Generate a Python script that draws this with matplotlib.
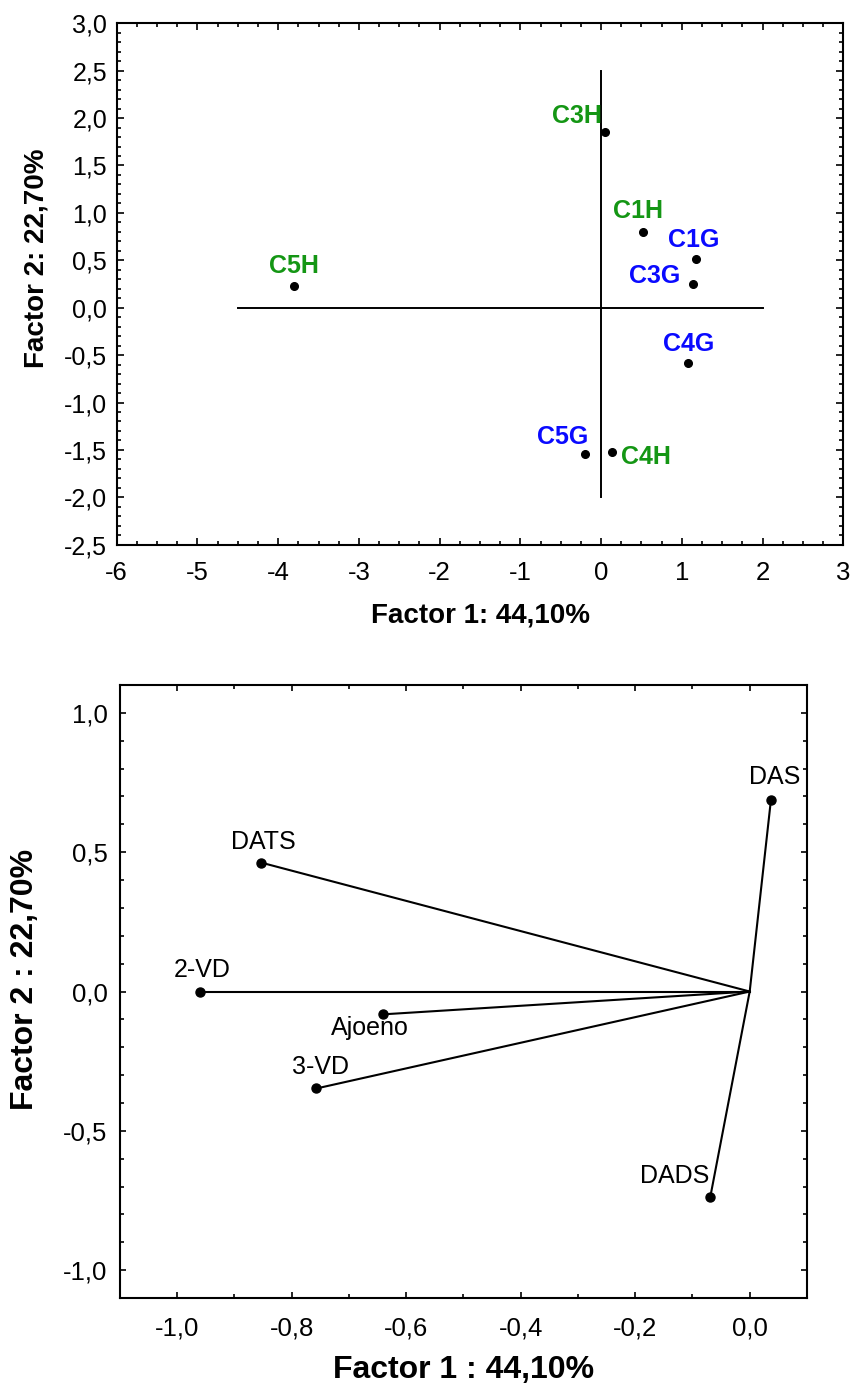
import matplotlib
matplotlib.use("Agg")
import matplotlib.pyplot as plt
from matplotlib.ticker import MultipleLocator, FuncFormatter

plt.rcParams['font.family'] = ['Liberation Sans', 'DejaVu Sans']

# --- cases on factor plane (top) ---
case_names = ['C3H', 'C1H', 'C1G', 'C3G', 'C4G', 'C5G', 'C4H', 'C5H']
case_f1 = [0.05, 0.52, 1.17, 1.14, 1.08, -0.20, 0.14, -3.80]
case_f2 = [1.85, 0.80, 0.51, 0.25, -0.58, -1.54, -1.52, 0.23]
case_group = ['H', 'H', 'G', 'G', 'G', 'G', 'H', 'H']

# reference cross drawn through the origin
cross_f1 = [-4.5, 2.0]
cross_f2 = [-2.0, 2.5]

# --- variables (loadings, bottom) ---
var_names = ['DAS', 'DADS', 'DATS', '2-VD', 'Ajoeno', '3-VD']
var_f1 = [0.037, -0.069, -0.854, -0.960, -0.641, -0.757]
var_f2 = [0.686, -0.739, 0.463, 0.0, -0.082, -0.348]

# label placement: (dx px, dy px, ha)
case_offsets = {
    'C3H': (-3, 16, 'right'), 'C1H': (-5, 21, 'center'), 'C1G': (-2, 19, 'center'),
    'C3G': (-13, 8, 'right'), 'C4G': (0, 19, 'center'), 'C5G': (3, 17, 'right'),
    'C4H': (9, -5, 'left'), 'C5H': (0, 20, 'center'),
}
var_offsets = {
    'DAS': (4, 23, 'center'), 'DADS': (-1, 21, 'right'), 'DATS': (3, 21, 'center'),
    '2-VD': (2, 22, 'center'), 'Ajoeno': (-13, -14, 'center'), '3-VD': (4, 21, 'center'),
}
group_colors = {'H': '#149614', 'G': '#0a0aff'}
PX = 0.72  # px -> pt at 100 dpi


def comma(fmt):
    return FuncFormatter(lambda v, p: fmt.format(round(v, 3) + 0.0).replace('.', ','))


fig = plt.figure(figsize=(8.54, 13.85), dpi=100)

# ---------------- top plot ----------------
ax = fig.add_axes([0.1367, 0.6067, 0.8508, 0.3765])
ax.plot(cross_f1, [0, 0], color='black', lw=1.4)
ax.plot([0, 0], cross_f2, color='black', lw=1.4)
ax.plot(case_f1, case_f2, 'o', color='black', ms=5.5, ls='none')
for name, x, y, g in zip(case_names, case_f1, case_f2, case_group):
    dx, dy, ha = case_offsets[name]
    ax.annotate(name, (x, y), xytext=(dx * PX, dy * PX), textcoords='offset points',
                ha=ha, va='center', fontsize=18, fontweight='bold', color=group_colors[g])

ax.set_xlim(-6, 3)
ax.set_ylim(-2.5, 3.0)
ax.xaxis.set_major_locator(MultipleLocator(1))
ax.xaxis.set_minor_locator(MultipleLocator(0.25))
ax.yaxis.set_major_locator(MultipleLocator(0.5))
ax.yaxis.set_minor_locator(MultipleLocator(0.1))
ax.xaxis.set_major_formatter(comma('{:.0f}'))
ax.yaxis.set_major_formatter(comma('{:.1f}'))
ax.tick_params(which='both', direction='in', top=True, right=True, width=1.2)
ax.tick_params(which='major', length=5)
ax.tick_params(which='minor', length=3)
ax.tick_params(axis='x', which='major', labelsize=18.5, pad=12)
ax.tick_params(axis='y', which='major', labelsize=18, pad=7)
for sp in ax.spines.values():
    sp.set_linewidth(1.5)
ax.set_xlabel('Factor 1: 44,10%', fontsize=20, fontweight='bold', va='center')
ax.xaxis.set_label_coords(0.5, -0.136)
ax.set_ylabel('Factor 2: 22,70%', fontsize=20, fontweight='bold', va='center')
ax.yaxis.set_label_coords(-0.11, 0.55)

# ---------------- bottom plot ----------------
ax2 = fig.add_axes([0.1405, 0.0628, 0.8044, 0.4426])
for x, y in zip(var_f1, var_f2):
    ax2.plot([0, x], [0, y], color='black', lw=1.5)
ax2.plot(var_f1, var_f2, 'o', color='black', ms=6.5, ls='none')
for name, x, y in zip(var_names, var_f1, var_f2):
    dx, dy, ha = var_offsets[name]
    ax2.annotate(name, (x, y), xytext=(dx * PX, dy * PX), textcoords='offset points',
                 ha=ha, va='center', fontsize=18, color='black')

ax2.set_xlim(-1.1, 0.1)
ax2.set_ylim(-1.1, 1.1)
ax2.xaxis.set_major_locator(MultipleLocator(0.2))
ax2.xaxis.set_minor_locator(MultipleLocator(0.1))
ax2.yaxis.set_major_locator(MultipleLocator(0.5))
ax2.yaxis.set_minor_locator(MultipleLocator(0.1))
ax2.xaxis.set_major_formatter(comma('{:.1f}'))
ax2.yaxis.set_major_formatter(comma('{:.1f}'))
ax2.tick_params(which='both', direction='in', top=True, right=True, width=1.2)
ax2.tick_params(which='major', length=4)
ax2.tick_params(which='minor', length=3)
ax2.tick_params(axis='x', which='major', labelsize=18.5, pad=13)
ax2.tick_params(axis='y', which='major', labelsize=18.5, pad=9)
for sp in ax2.spines.values():
    sp.set_linewidth(1.5)
ax2.set_xlabel('Factor 1 : 44,10%', fontsize=23, fontweight='bold', va='center')
ax2.xaxis.set_label_coords(0.5, -0.117)
ax2.set_ylabel('Factor 2 : 22,70%', fontsize=23, fontweight='bold', va='center')
ax2.yaxis.set_label_coords(-0.138, 0.519)

fig.savefig('out.png', dpi=100)
